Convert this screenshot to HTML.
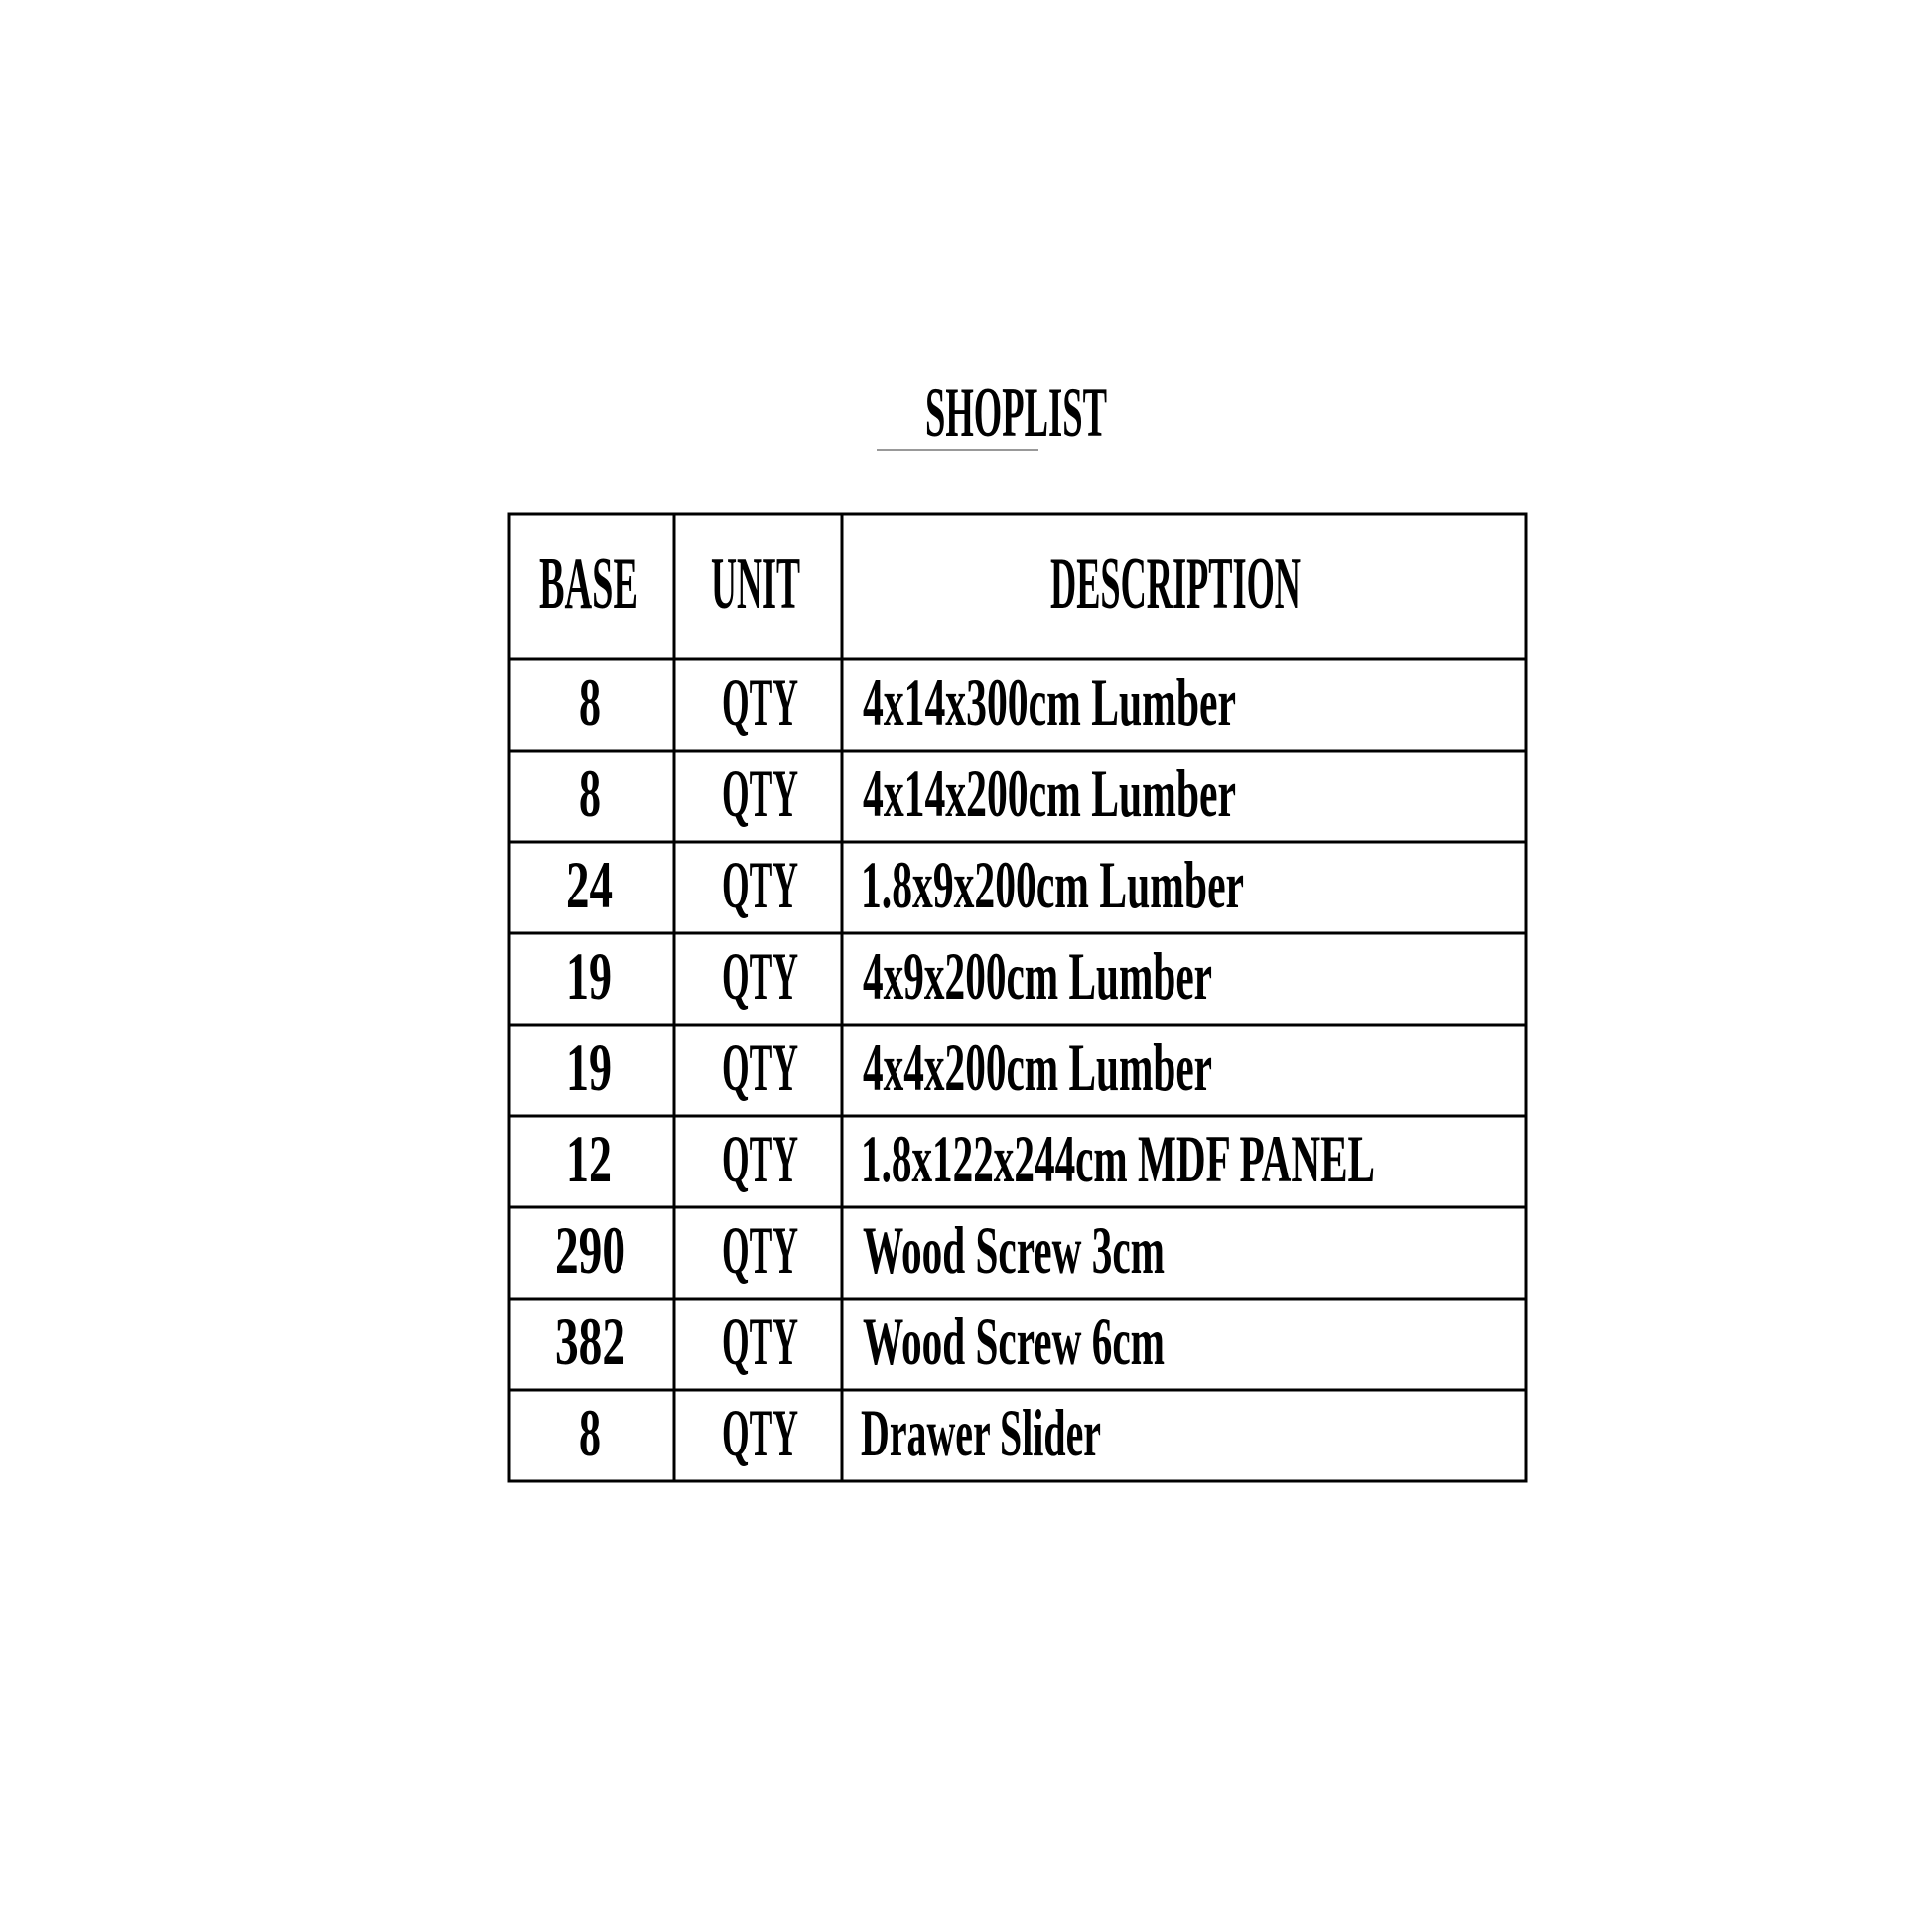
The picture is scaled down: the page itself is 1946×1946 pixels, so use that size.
<!DOCTYPE html>
<html><head><meta charset="utf-8"><style>
html,body{margin:0;padding:0;background:#fff;}
svg{display:block}
text{font-family:"Liberation Serif",serif;font-weight:bold;fill:#000}
</style></head><body>
<svg width="1946" height="1946" viewBox="0 0 1946 1946" xmlns="http://www.w3.org/2000/svg">
<rect width="1946" height="1946" fill="#fff"/>
<text x="932" y="439" font-size="71" textLength="183" lengthAdjust="spacingAndGlyphs">SHOPLIST</text>
<line x1="883" y1="453" x2="1046" y2="453" stroke="#999" stroke-width="2"/>
<g stroke="#000" stroke-width="3" fill="none">
<rect x="513" y="518" width="1024" height="974"/>
<line x1="679" y1="518" x2="679" y2="1492"/>
<line x1="848" y1="518" x2="848" y2="1492"/>
<line x1="513" y1="664" x2="1537" y2="664"/>
<line x1="513" y1="756" x2="1537" y2="756"/>
<line x1="513" y1="848" x2="1537" y2="848"/>
<line x1="513" y1="940" x2="1537" y2="940"/>
<line x1="513" y1="1032" x2="1537" y2="1032"/>
<line x1="513" y1="1124" x2="1537" y2="1124"/>
<line x1="513" y1="1216" x2="1537" y2="1216"/>
<line x1="513" y1="1308" x2="1537" y2="1308"/>
<line x1="513" y1="1400" x2="1537" y2="1400"/>
</g>
<text x="543" y="612" font-size="74" textLength="100" lengthAdjust="spacingAndGlyphs">BASE</text>
<text x="716" y="612" font-size="74" textLength="90" lengthAdjust="spacingAndGlyphs">UNIT</text>
<text x="1058" y="612" font-size="74" textLength="252" lengthAdjust="spacingAndGlyphs">DESCRIPTION</text>
<g font-size="68">
<text x="583" y="730" textLength="22" lengthAdjust="spacingAndGlyphs">8</text>
<text x="583" y="822" textLength="22" lengthAdjust="spacingAndGlyphs">8</text>
<text x="570" y="914" textLength="47" lengthAdjust="spacingAndGlyphs">24</text>
<text x="570" y="1006" textLength="46" lengthAdjust="spacingAndGlyphs">19</text>
<text x="570" y="1098" textLength="46" lengthAdjust="spacingAndGlyphs">19</text>
<text x="570" y="1190" textLength="46" lengthAdjust="spacingAndGlyphs">12</text>
<text x="559" y="1282" textLength="71" lengthAdjust="spacingAndGlyphs">290</text>
<text x="559" y="1374" textLength="71" lengthAdjust="spacingAndGlyphs">382</text>
<text x="583" y="1466" textLength="22" lengthAdjust="spacingAndGlyphs">8</text>
<g>
<text x="727" y="730" textLength="77" lengthAdjust="spacingAndGlyphs">QTY</text>
<text x="727" y="822" textLength="77" lengthAdjust="spacingAndGlyphs">QTY</text>
<text x="727" y="914" textLength="77" lengthAdjust="spacingAndGlyphs">QTY</text>
<text x="727" y="1006" textLength="77" lengthAdjust="spacingAndGlyphs">QTY</text>
<text x="727" y="1098" textLength="77" lengthAdjust="spacingAndGlyphs">QTY</text>
<text x="727" y="1190" textLength="77" lengthAdjust="spacingAndGlyphs">QTY</text>
<text x="727" y="1282" textLength="77" lengthAdjust="spacingAndGlyphs">QTY</text>
<text x="727" y="1374" textLength="77" lengthAdjust="spacingAndGlyphs">QTY</text>
<text x="727" y="1466" textLength="77" lengthAdjust="spacingAndGlyphs">QTY</text>
</g>
<text x="869" y="730" textLength="376" lengthAdjust="spacingAndGlyphs">4x14x300cm Lumber</text>
<text x="869" y="822" textLength="376" lengthAdjust="spacingAndGlyphs">4x14x200cm Lumber</text>
<text x="867" y="914" textLength="386" lengthAdjust="spacingAndGlyphs">1.8x9x200cm Lumber</text>
<text x="869" y="1006" textLength="352" lengthAdjust="spacingAndGlyphs">4x9x200cm Lumber</text>
<text x="869" y="1098" textLength="352" lengthAdjust="spacingAndGlyphs">4x4x200cm Lumber</text>
<text x="867" y="1190" textLength="518" lengthAdjust="spacingAndGlyphs">1.8x122x244cm MDF PANEL</text>
<text x="869" y="1282" textLength="304" lengthAdjust="spacingAndGlyphs">Wood Screw 3cm</text>
<text x="869" y="1374" textLength="304" lengthAdjust="spacingAndGlyphs">Wood Screw 6cm</text>
<text x="867" y="1466" textLength="242" lengthAdjust="spacingAndGlyphs">Drawer Slider</text>
</g>
</svg>
</body></html>
